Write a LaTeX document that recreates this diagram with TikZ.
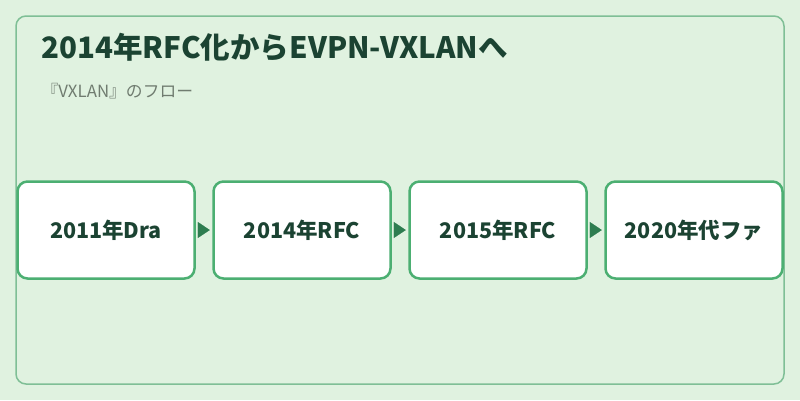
\documentclass[tikz,border=0pt]{standalone}
\usepackage{fontspec}
\setmainfont{Noto Sans CJK JP}
\usetikzlibrary{arrows.meta,positioning}
\definecolor{bggreen}{RGB}{224,242,224}
\definecolor{framegreen}{RGB}{127,191,150}
\definecolor{boxgreen}{RGB}{76,175,114}
\definecolor{arrowgreen}{RGB}{46,125,80}
\definecolor{titlegreen}{RGB}{27,67,50}
\definecolor{subgray}{RGB}{112,124,112}

\begin{document}
\begin{tikzpicture}[x=1pt,y=-1pt]
				\tikzstyle{stepbox} = [draw=boxgreen, line width=2.5pt, fill=white, rounded corners=10pt, minimum width=177pt, minimum height=97pt, font=\fontsize{21.5}{24}\selectfont\bfseries, text=titlegreen]
				\tikzstyle{myedgestyle} = [draw=arrowgreen, line width=0.1pt, -{Triangle[length=12pt,width=16pt]}, shorten <=2.5pt, shorten >=2.5pt, fill=arrowgreen]
				
				\useasboundingbox (0,0) rectangle (800,400);
				\fill[bggreen] (0,0) rectangle (800,400);
				\draw[framegreen, line width=1.5pt, rounded corners=10pt] (16,16) rectangle (784,384);
				
				\node[anchor=base west, text=titlegreen, font=\fontsize{29.5}{34}\selectfont\bfseries] (T1) at (38,58) {2014年RFC化からEVPN-VXLANへ};
				\node[anchor=base west, text=subgray, font=\fontsize{16.8}{20}\selectfont] (T2) at (38,97) {『VXLAN』のフロー};
				
				\node[stepbox] (S1) at (106,230) {2011年Dra};
				\node[stepbox] (S2) at (302,230) {2014年RFC};
				\node[stepbox] (S3) at (498,230) {2015年RFC};
				\node[stepbox] (S4) at (694,230) {2020年代ファ};
				
				\draw [myedgestyle] (S1) -- (S2);
				\draw [myedgestyle] (S2) -- (S3);
				\draw [myedgestyle] (S3) -- (S4);
				
\end{tikzpicture}
\end{document}
